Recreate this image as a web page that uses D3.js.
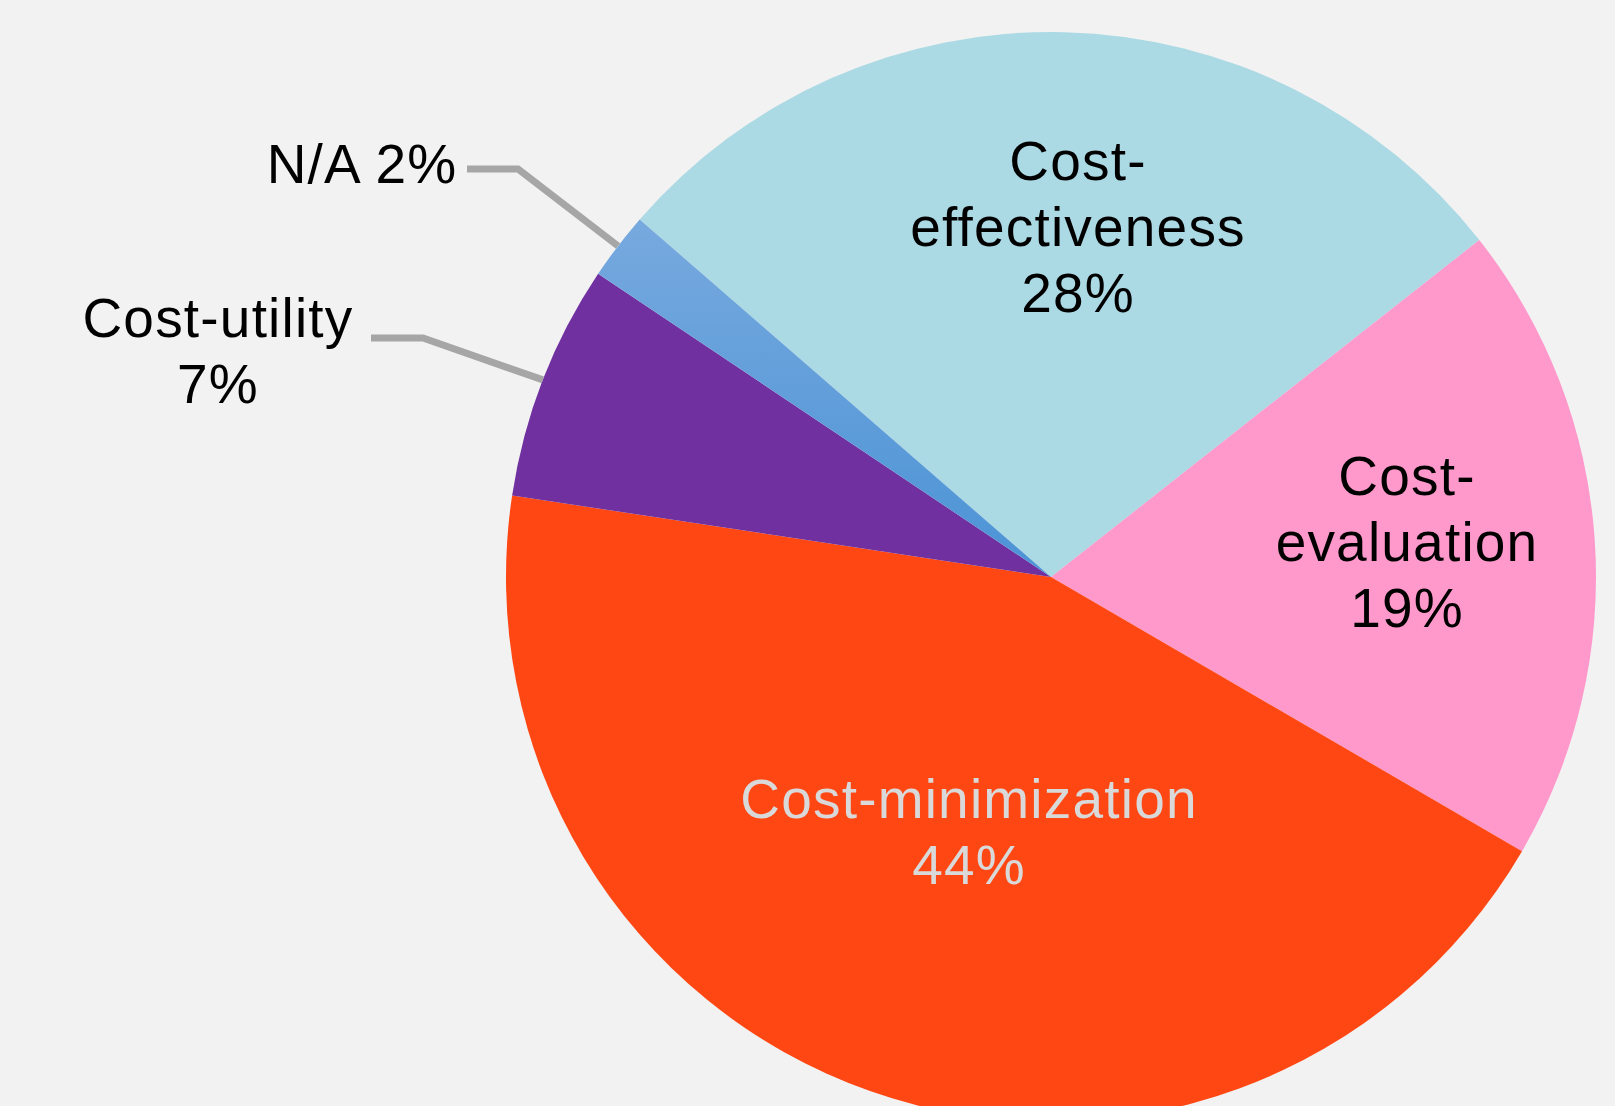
<!DOCTYPE html>
<html>
<head>
<meta charset="utf-8">
<script src="https://cdn.jsdelivr.net/npm/d3@7"></script>
<style>
  html, body { margin: 0; padding: 0; background: #f2f2f2; }
  svg { display: block; }
  .lbl { font-family: "Liberation Sans", Arial, sans-serif; font-size: 55px; letter-spacing: 1.2px; }
</style>
</head>
<body>
<div id="chart"></div>
<script>
// data
const categories = ["Cost-effectiveness", "Cost-evaluation", "Cost-minimization", "Cost-utility", "N/A"];
const shares = [28, 19, 44, 7, 2];
const labelLines = [
  ["Cost-", "effectiveness", "28%"],
  ["Cost-", "evaluation", "19%"],
  ["Cost-minimization", "44%"],
  ["Cost-utility", "7%"],
  ["N/A 2%"]
];
const colors = ["#abd9e4", "#ff99cc", "#ff4713", "#7030a0", "url(#naGrad)"];

const width = 1615, height = 1106;
const cx = 1051, cy = 577, radius = 545;
const firstSliceAngle = -49; // degrees, clockwise from 12 o'clock
const lineH = 66;

// label placement (block anchor x, first baseline y), leader bend for outside labels
const labelLayout = [
  { x: 1078, y: 180, fill: "#000" },
  { x: 1407, y: 495, fill: "#000" },
  { x: 969, y: 818, fill: "#d9d9d9" },
  { x: 218, y: 337, fill: "#000", leader: { x0: 371, y0: 338, bend: 423 } },
  { x: 362, y: 183, fill: "#000", leader: { x0: 467, y0: 169, bend: 518 } }
];

const svg = d3.select("#chart").append("svg")
  .attr("width", width)
  .attr("height", height);

svg.append("rect").attr("width", width).attr("height", height).attr("fill", "#f2f2f2");

const defs = svg.append("defs");
const grad = defs.append("linearGradient")
  .attr("id", "naGrad")
  .attr("x1", 0).attr("y1", 0).attr("x2", 0).attr("y2", 1);
grad.append("stop").attr("offset", "0%").attr("stop-color", "#77a9de");
grad.append("stop").attr("offset", "100%").attr("stop-color", "#4b93d6");

const a0 = firstSliceAngle * Math.PI / 180;
const pie = d3.pie().sort(null).value(d => d)
  .startAngle(a0).endAngle(a0 + 2 * Math.PI);
const arcs = pie(shares);

const arc = d3.arc().innerRadius(0).outerRadius(radius);

const g = svg.append("g").attr("transform", `translate(${cx},${cy})`);

g.selectAll("path.slice")
  .data(arcs)
  .join("path")
  .attr("class", "slice")
  .attr("d", arc)
  .attr("fill", (d, i) => colors[i]);

// leader lines for outside labels
arcs.forEach((d, i) => {
  const lay = labelLayout[i];
  if (!lay.leader) return;
  const mid = (d.startAngle + d.endAngle) / 2;
  const ex = cx + radius * Math.sin(mid);
  const ey = cy - radius * Math.cos(mid);
  const pts = [[lay.leader.x0, lay.leader.y0], [lay.leader.bend, lay.leader.y0], [ex, ey]];
  svg.append("path")
    .attr("d", d3.line()(pts))
    .attr("fill", "none")
    .attr("stroke", "#a6a6a6")
    .attr("stroke-width", 7);
});

// labels
labelLines.forEach((lines, i) => {
  const lay = labelLayout[i];
  const t = svg.append("text")
    .attr("class", "lbl")
    .attr("text-anchor", "middle")
    .attr("fill", lay.fill);
  lines.forEach((s, k) => {
    t.append("tspan")
      .attr("x", lay.x)
      .attr("y", lay.y + k * lineH)
      .text(s);
  });
});
</script>
</body>
</html>
